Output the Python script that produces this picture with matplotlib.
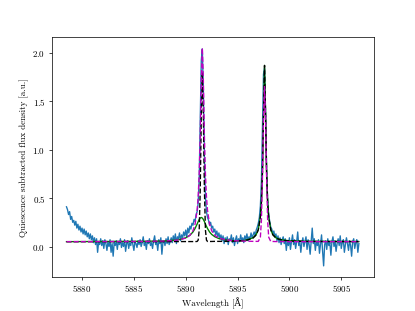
import numpy as np
import matplotlib
matplotlib.use("Agg")
import matplotlib.pyplot as plt

plt.rcParams['font.family'] = ['cmr10', 'DejaVu Serif']
plt.rcParams['mathtext.fontset'] = 'cm'
plt.rcParams['axes.formatter.use_mathtext'] = True
plt.rcParams['axes.unicode_minus'] = False

# observed spectrum (quiescence subtracted), 0.1 A sampling from 5878.5 to 5906.7
flux = [
    0.41, 0.38, 0.33, 0.36, 0.28, 0.31, 0.25, 0.27, 0.22, 0.26,
    0.19, 0.23, 0.17, 0.21, 0.15, 0.19, 0.13, 0.18, 0.12, 0.16,
    0.10, 0.14, 0.08, 0.13, 0.07, 0.11, 0.04, 0.09, 0.02, 0.08,
    -0.06, 0.05, 0.02, 0.08, 0.01, 0.06, -0.02, 0.07, 0.03, -0.04,
    0.05, 0.00, 0.07, -0.06, 0.03, -0.10, 0.04, 0.01, 0.06, -0.03,
    0.05, 0.02, 0.08, -0.01, 0.04, 0.00, 0.07, -0.05, 0.03, 0.06,
    -0.02, 0.04, 0.01, 0.09, 0.02, -0.04, 0.05, 0.03, -0.01, 0.06,
    0.02, 0.07, 0.00, 0.04, 0.10, 0.01, 0.05, -0.03, 0.06, 0.03,
    0.08, 0.01, 0.04, -0.02, 0.06, 0.11, 0.02, 0.05, -0.04, 0.07,
    0.03, 0.09, -0.08, 0.04, 0.06, 0.01, 0.08, 0.03, 0.10, 0.02,
    0.05, 0.09, 0.04, 0.11, 0.06, 0.13, 0.03, 0.10, 0.08, 0.14,
    0.06, 0.12, 0.09, 0.15, 0.11, 0.17, 0.10, 0.19, 0.14, 0.21,
    0.18, 0.24, 0.22, 0.28, 0.26, 0.33, 0.36, 0.45, 0.72, 1.35,
    1.92, 2.04, 1.62, 0.95, 0.52, 0.36, 0.30, 0.27, 0.22, 0.25,
    0.19, 0.21, 0.15, 0.18, 0.12, 0.16, 0.10, 0.14, 0.08, 0.12,
    0.06, 0.11, 0.03, 0.09, 0.05, 0.10, 0.02, 0.08, 0.06, 0.12,
    0.04, 0.09, 0.01, 0.07, 0.11, 0.03, 0.08, 0.05, 0.12, 0.06,
    0.09, 0.04, 0.11, 0.07, 0.13, 0.06, 0.10, 0.08, 0.14, 0.09,
    0.12, 0.15, 0.11, 0.17, 0.20, 0.24, 0.30, 0.42, 0.68, 1.25,
    1.78, 1.84, 1.40, 0.80, 0.48, 0.33, 0.26, 0.20, 0.18, 0.13,
    0.16, 0.10, 0.13, 0.06, 0.11, 0.04, 0.09, 0.02, 0.07, 0.10,
    0.03, 0.08, -0.04, 0.06, 0.01, 0.09, -0.03, 0.05, 0.12, 0.02,
    0.07, -0.02, 0.05, 0.15, 0.01, 0.06, -0.06, 0.04, 0.09, 0.00,
    0.05, 0.10, -0.03, 0.07, 0.02, -0.08, 0.06, 0.19, 0.03, 0.08,
    -0.04, 0.05, 0.01, 0.07, -0.07, 0.03, 0.12, -0.05, -0.20, 0.02,
    0.06, -0.03, 0.08, 0.01, 0.04, -0.09, 0.05, 0.10, 0.00, 0.06,
    -0.05, 0.03, 0.08, 0.01, 0.11, -0.02, 0.04, 0.07, -0.06, 0.02,
    0.09, 0.03, -0.04, 0.06, 0.01, -0.10, 0.05, 0.08, -0.02, 0.04,
    0.07, -0.06, 0.03,
]
wavelength = np.linspace(5878.5, 5906.7, len(flux))

# fitted model curves
model_wl = [5878.5, 5886.0, 5888.0, 5889.0, 5889.5, 5890.0, 5890.4, 5890.7, 5890.9, 5891.1,
            5891.2, 5891.3, 5891.4, 5891.5, 5891.6, 5891.7, 5891.8, 5891.9, 5892.0, 5892.1,
            5892.3, 5892.5, 5892.8, 5893.2, 5893.7, 5894.5, 5895.5, 5896.0, 5896.5, 5896.8,
            5897.0, 5897.2, 5897.3, 5897.4, 5897.5, 5897.6, 5897.7, 5897.8, 5897.9, 5898.0,
            5898.2, 5898.4, 5898.7, 5899.0, 5899.5, 5900.2, 5901.5, 5906.7]
model_black = [0.05, 0.05, 0.05, 0.051, 0.051, 0.051, 0.051, 0.051, 0.051, 0.052,
               0.066, 0.17, 0.59, 1.35, 1.80, 1.35, 0.59, 0.17, 0.066, 0.052,
               0.052, 0.052, 0.053, 0.053, 0.053, 0.055, 0.061, 0.068, 0.088, 0.121,
               0.173, 0.304, 0.458, 0.767, 1.36, 1.87, 1.36, 0.767, 0.458, 0.304,
               0.173, 0.121, 0.088, 0.074, 0.063, 0.057, 0.053, 0.051]
model_green = [0.05, 0.054, 0.058, 0.066, 0.074, 0.090, 0.116, 0.15, 0.186, 0.232,
               0.257, 0.279, 0.294, 0.30, 0.294, 0.279, 0.257, 0.232, 0.208, 0.186,
               0.15, 0.125, 0.101, 0.082, 0.070, 0.061, 0.056, 0.072, 0.091, 0.124,
               0.176, 0.307, 0.46, 0.77, 1.36, 1.87, 1.36, 0.77, 0.46, 0.306,
               0.175, 0.123, 0.09, 0.076, 0.064, 0.058, 0.053, 0.051]
model_magenta = [0.05, 0.053, 0.057, 0.064, 0.072, 0.087, 0.115, 0.163, 0.23, 0.375,
                 0.515, 0.75, 1.145, 1.71, 2.05, 1.71, 1.145, 0.75, 0.515, 0.375,
                 0.23, 0.163, 0.115, 0.087, 0.072, 0.061, 0.056, 0.055, 0.053, 0.053,
                 0.053, 0.097, 0.27, 0.71, 1.33, 1.65, 1.33, 0.71, 0.27, 0.097,
                 0.052, 0.052, 0.051, 0.051, 0.051, 0.05, 0.05, 0.05]

fig, ax = plt.subplots(figsize=(6.4, 4.8), dpi=415 / 6.4)

ax.plot(wavelength, flux, color='C0')
ax.plot(model_wl, model_green, color='g')
ax.plot(model_wl, model_black, 'k--')
ax.plot(model_wl, model_magenta, 'm--')

ax.set_xlabel('Wavelength [Å]')
ax.set_ylabel('Quiescence subtracted flux density [a.u.]')
ax.set_xticks([5880, 5885, 5890, 5895, 5900, 5905])
ax.set_yticks([0.0, 0.5, 1.0, 1.5, 2.0])

fig.savefig('out.png')
